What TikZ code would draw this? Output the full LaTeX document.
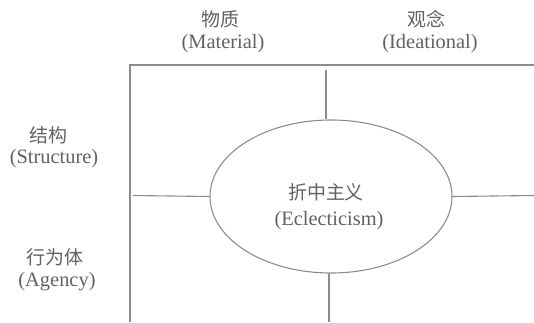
\documentclass[tikz,border=0pt]{standalone}
\usepackage{fontspec}
\setmainfont{Liberation Serif}
\newfontfamily\cjk{Noto Sans CJK SC}
\usetikzlibrary{shapes.geometric}
\definecolor{txt}{gray}{0.38}
\definecolor{ln}{gray}{0.55}
\begin{document}
\begin{tikzpicture}[x=1bp,y=-1bp,
  zh/.style={font=\cjk\fontsize{19}{19}\selectfont, text=txt, inner sep=0pt},
  en/.style={font=\fontsize{20.5}{20.5}\selectfont, text=txt, inner sep=0pt},
  frameline/.style={draw=ln, line width=1.1bp},
  oval/.style={ellipse, draw=ln, line width=1.1bp, minimum width=242bp, minimum height=153bp, inner sep=0pt}]
\useasboundingbox (0,0) rectangle (534,322);
% column headers
\node[zh] (mat) at (220,19) {物质};
\node[en] (matE) at (223,44) {(Material)};
\node[zh] (ide) at (426,19) {观念};
\node[en] (ideE) at (430,44) {(Ideational)};
% row headers
\node[zh] (str) at (48,135) {结构};
\node[en] (strE) at (54,159) {(Structure)};
\node[zh] (agc) at (55,257) {行为体};
\node[en] (agcE) at (57,282) {(Agency)};
% frame
\coordinate (tl) at (130,65);
\coordinate (tr) at (534,65);
\coordinate (bl) at (130,322);
\draw[frameline] (tr) -- (tl) -- (bl);
% ellipse
\node[oval] (e) at (331,196.5) {};
\node[zh] (ecl) at (326,192) {折中主义};
\node[en] (eclE) at (329,221) {(Eclecticism)};
% dividers
\coordinate (topd) at (326,70);
\coordinate (botd) at (329,322);
\coordinate (lft) at (133,195.5);
\coordinate (rgt) at (534,195.5);
\draw[frameline] (topd) -- (topd |- e.north);
\draw[frameline] (botd |- e.south) -- (botd);
\draw[frameline] (lft) -- (e.west);
\draw[frameline] (e.east) -- (rgt);
\end{tikzpicture}
\end{document}
